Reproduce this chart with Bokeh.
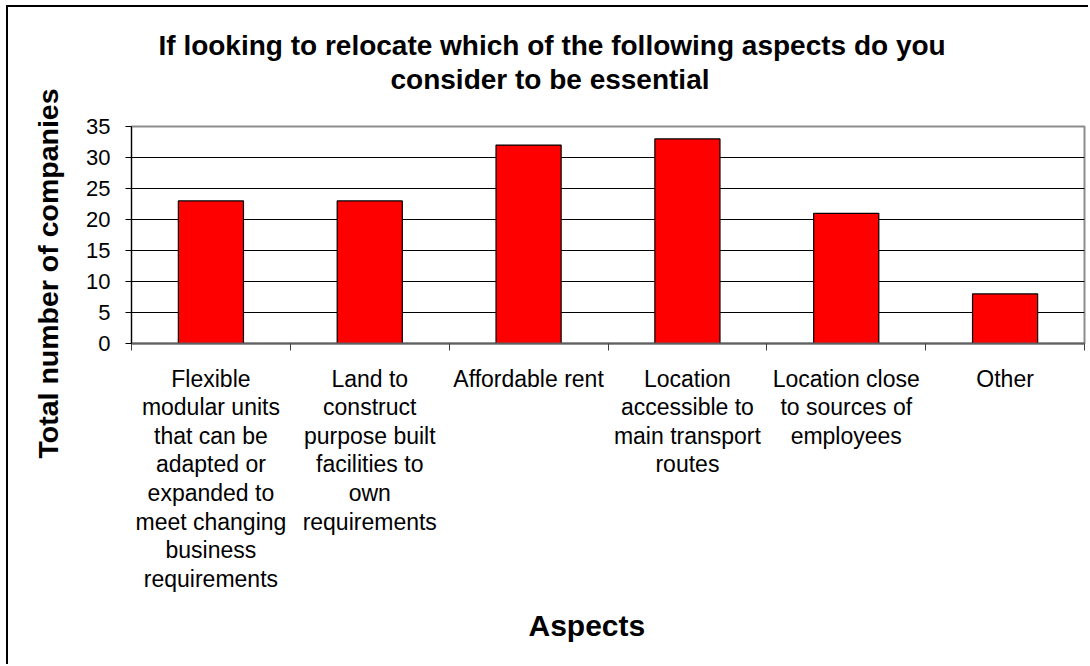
from bokeh.plotting import figure
from bokeh.models import (FactorRange, Range1d, LinearAxis, FixedTicker, Title)
from bokeh.embed import file_html
from bokeh.resources import INLINE

categories = [
    "Flexible\nmodular units\nthat can be\nadapted or\nexpanded to\nmeet changing\nbusiness\nrequirements",
    "Land to\nconstruct\npurpose built\nfacilities to\nown\nrequirements",
    "Affordable rent",
    "Location\naccessible to\nmain transport\nroutes",
    "Location close\nto sources of\nemployees",
    "Other",
]
counts = [23, 23, 32, 33, 21, 8]
y_ticks = [0, 5, 10, 15, 20, 25, 30, 35]

title_lines = ["If looking to relocate which of the following aspects do you",
               "consider to be essential"]
x_title = "Aspects"
y_title = "Total number of companies"

FONT = "Liberation Sans"

p = figure(x_range=FactorRange(factors=categories, range_padding=0),
           y_range=Range1d(0, 35),
           width=1082, height=659,
           output_backend="svg", toolbar_location=None,
           x_axis_location=None,
           min_border_left=123, min_border_top=119,
           min_border_right=6, min_border_bottom=323)

p.background_fill_color = "white"
p.border_fill_color = "white"
p.outline_line_color = "#8c8c8c"
p.outline_line_width = 2

p.vbar(x=categories, top=counts, width=0.41,
       fill_color="#FF0000", line_color="black", line_width=1.2)

# y axis
ya = p.yaxis[0]
ya.ticker = FixedTicker(ticks=y_ticks)
ya.major_tick_in = 0
ya.major_tick_out = 6
ya.minor_tick_line_color = None
ya.axis_line_color = "black"
ya.major_tick_line_color = "black"
ya.major_label_text_font = FONT
ya.major_label_text_font_size = "22px"
ya.major_label_text_color = "black"
ya.major_label_standoff = 15

p.ygrid.grid_line_color = "black"
p.ygrid.grid_line_width = 1
p.ygrid.ticker = FixedTicker(ticks=y_ticks)
p.xgrid.visible = False

# x axis: labels at category centres, ticks at category boundaries
n = len(categories)
centres = [i + 0.5 for i in range(n)]
bounds = [float(i) for i in range(n + 1)]
xa = LinearAxis(ticker=FixedTicker(ticks=centres, minor_ticks=bounds),
                major_tick_in=0, major_tick_out=0,
                major_tick_line_color=None,
                minor_tick_in=0, minor_tick_out=7,
                minor_tick_line_color="#404040", minor_tick_line_width=1,
                axis_line_color="#606060", axis_line_width=2,
                major_label_overrides={c: lab for c, lab in zip(centres, categories)},
                major_label_text_font=FONT,
                major_label_text_font_size="23px",
                major_label_text_color="black",
                major_label_text_line_height=1.1,
                major_label_standoff=15)
p.add_layout(xa, "below")

# two-line chart title (outer line is the figure's own title)
p.title.text = title_lines[0]
p.title.align = "left"
p.title.offset = 27
p.title.standoff = -63
p.title.text_font = FONT
p.title.text_font_size = "28px"
p.title.text_font_style = "bold"
p.title.text_color = "black"

p.add_layout(Title(text=title_lines[1], align="left", offset=259, standoff=64,
                   text_font=FONT, text_font_size="28px",
                   text_font_style="bold", text_color="black"), "above")

p.add_layout(Title(text=x_title, align="left", offset=397, standoff=25,
                   text_font=FONT, text_font_size="30px",
                   text_font_style="bold", text_color="black"), "below")

p.add_layout(Title(text=y_title, align="left", offset=-115, standoff=40,
                   text_font=FONT, text_font_size="28.5px",
                   text_font_style="bold", text_color="black"), "left")

p.styles = {"border-top": "2px solid black", "border-left": "2px solid black",
            "margin-left": "6px", "margin-top": "5px"}

open("out.html", "w").write(file_html(p, INLINE))
